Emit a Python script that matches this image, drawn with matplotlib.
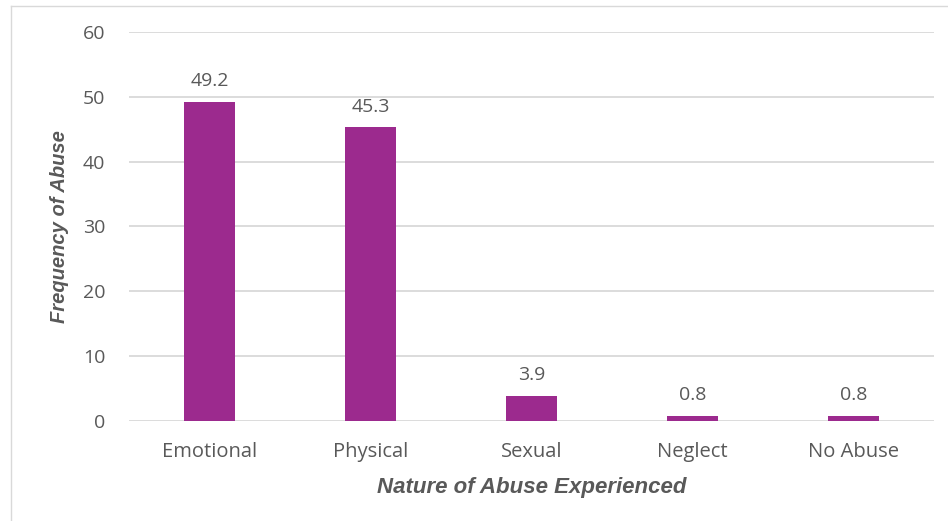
import matplotlib
matplotlib.use('Agg')
import matplotlib.pyplot as plt
from matplotlib.lines import Line2D

# data
categories = ['Emotional', 'Physical', 'Sexual', 'Neglect', 'No Abuse']
frequency = [49.2, 45.3, 3.9, 0.8, 0.8]
y_ticks = [0, 10, 20, 30, 40, 50, 60]

bar_color = '#9C2A8E'
text_color = '#595959'
grid_color = '#D9D9D9'
tick_font = 'Open Sans'

fig = plt.figure(figsize=(9.48, 5.21), dpi=100)
ax = fig.add_axes([0.136, 0.192, 0.849, 0.7466])

x = list(range(len(categories)))
bars = ax.bar(x, frequency, width=0.32, color=bar_color, zorder=3)

# value labels above bars
for rect, val in zip(bars, frequency):
    ax.text(rect.get_x() + rect.get_width() / 2, val + 1.8, f'{val}',
            ha='center', va='bottom', fontsize=14, color=text_color, family=tick_font)

ax.set_xlim(-0.5, len(categories) - 0.5)
ax.set_ylim(0, 60)
ax.set_yticks(y_ticks)
ax.set_xticks(x)
ax.set_xticklabels(categories, fontsize=14.5, color=text_color, family=tick_font)
ax.set_yticklabels([str(t) for t in y_ticks], fontsize=14, color=text_color, family=tick_font)
ax.tick_params(axis='both', length=0)
ax.tick_params(axis='y', pad=17)
ax.tick_params(axis='x', pad=15)

ax.grid(axis='y', color=grid_color, linewidth=1.3, zorder=0)
for side in ['top', 'right', 'left', 'bottom']:
    ax.spines[side].set_visible(False)

ax.set_ylabel('Frequency of Abuse', fontsize=14.5, fontweight='bold', style='italic',
              color=text_color, family='Liberation Sans', labelpad=10)
ax.set_xlabel('Nature of Abuse Experienced', fontsize=16, fontweight='bold', style='italic',
              color=text_color, family='Liberation Sans', labelpad=11)

# thin frame line on top and left edges
fig.add_artist(Line2D([0.0116, 1.0], [0.988, 0.988], transform=fig.transFigure,
                      color='#D9D9D9', linewidth=1))
fig.add_artist(Line2D([0.0116, 0.0116], [0.0, 0.988], transform=fig.transFigure,
                      color='#D9D9D9', linewidth=1))

fig.savefig('out.png', dpi=100, facecolor='white')
